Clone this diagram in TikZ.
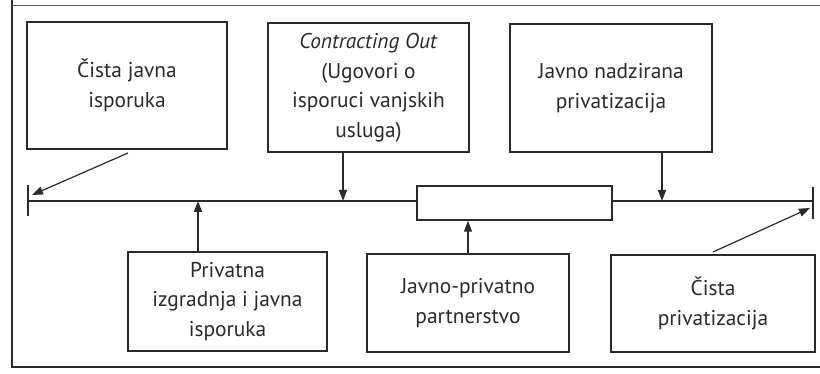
\documentclass[tikz,border=0pt]{standalone}
\usepackage{fontspec}
\setmainfont{PT Sans}
\usetikzlibrary{arrows.meta}
\definecolor{ink}{HTML}{2A2A2A}
\begin{document}
\begin{tikzpicture}[x=1pt,y=-1pt,
  box/.style={draw=ink,line width=1.4pt,fill=white,align=center,text=ink,inner sep=0pt,
    font=\fontsize{21.4}{29.5}\selectfont},
  conn/.style={draw=ink,line width=1.4pt,-{Triangle[length=11pt,width=8pt]}},
  thin/.style={draw=ink,line width=1.2pt,-{Triangle[length=11pt,width=8pt]}}]
\useasboundingbox (0,0) rectangle (820,374);
% frame
\draw[ink,line width=1.3pt] (12,0) -- (12,367) -- (820,367);
\draw[ink!80,line width=1pt] (12,6) -- (820,6);
% timeline
\coordinate (L) at (28,201);
\coordinate (R) at (813,201);
\draw[ink,line width=1.5pt] (L) -- (R);
\draw[ink,line width=1.4pt] (28,185) -- (28,216);
\draw[ink,line width=1.4pt] (813,187) -- (813,219);
% nodes
\node[box,minimum width=200pt,minimum height=127pt] (b1) at (127,85.5) {Čista javna\\isporuka};
\node[box,minimum width=201pt,minimum height=129pt] (b2) at (368.5,87.5) {\textit{Contracting Out}\\(Ugovori o\\isporuci vanjskih\\usluga)};
\node[box,minimum width=202pt,minimum height=128pt] (b3) at (611,88) {Javno nadzirana\\privatizacija};
\node[box,minimum width=195pt,minimum height=34pt] (m) at (514.5,203) {};
\node[box,minimum width=199pt,minimum height=99pt] (b4) at (227.5,301.5) {Privatna\\izgradnja i javna\\isporuka};
\node[box,minimum width=202pt,minimum height=98pt] (b5) at (468,303) {Javno-privatno\\partnerstvo};
\node[box,minimum width=204pt,minimum height=97pt] (b6) at (713,303.5) {Čista\\privatizacija};
% arrow targets
\coordinate (t1) at (32,195);
\coordinate (t6) at (810,208);
\coordinate (s1) at (128,153);
\coordinate (s6) at (713,252);
% connectors
\draw[thin] (s1) -- (t1);
\draw[thin] (s6) -- (t6);
\draw[conn] ([xshift=-25.5pt]b2.south) -- ([xshift=-25.5pt]b2.south |- L);
\draw[conn] ([xshift=51pt]b3.south) -- ([xshift=51pt]b3.south |- L);
\draw[conn] ([xshift=-29.5pt]b4.north) -- ([xshift=-29.5pt]b4.north |- L);
\draw[conn] (b5.north) -- (b5.north |- m.south);
\end{tikzpicture}
\end{document}
